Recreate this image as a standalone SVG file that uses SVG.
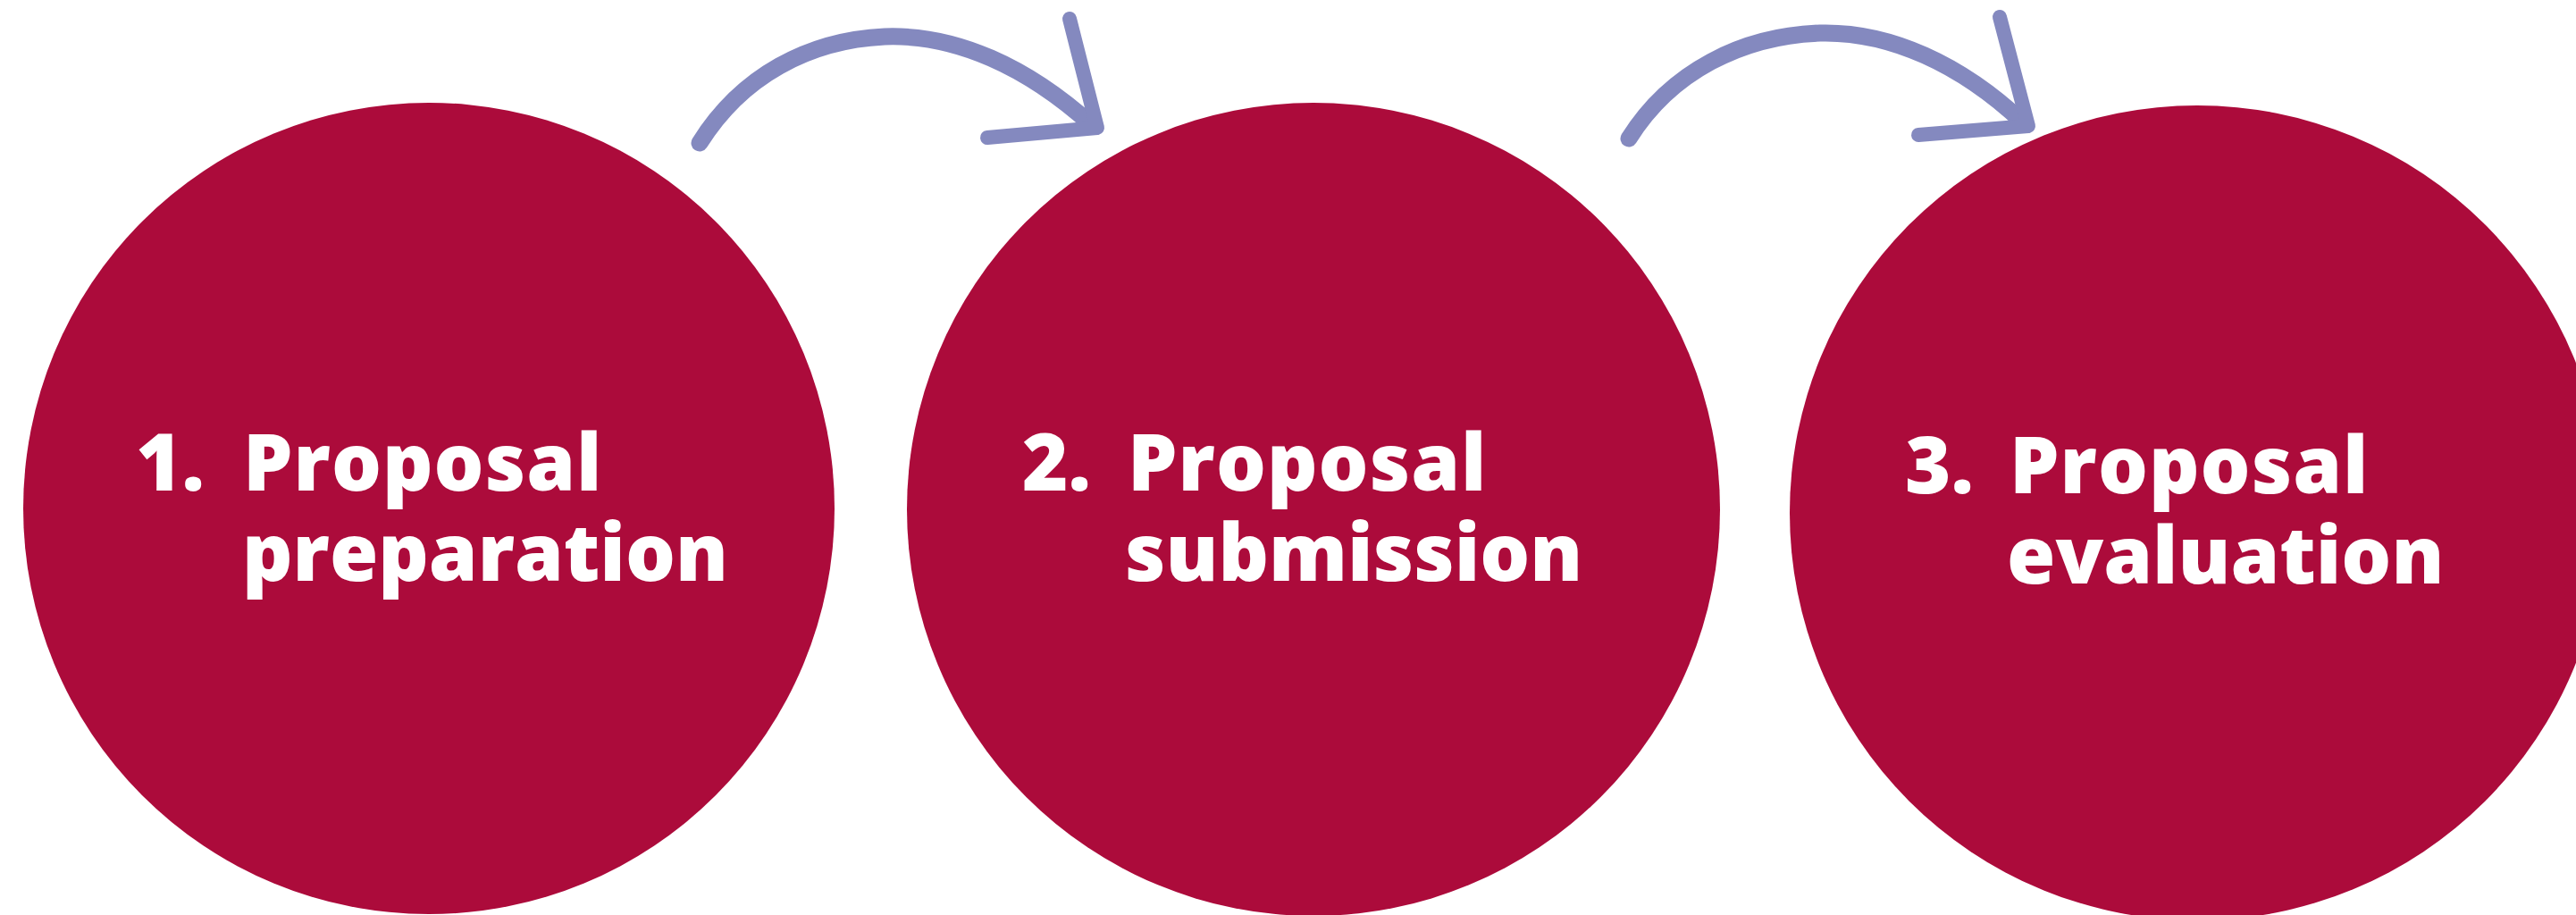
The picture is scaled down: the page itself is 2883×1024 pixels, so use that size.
<svg xmlns="http://www.w3.org/2000/svg" width="2883" height="1024" viewBox="0 0 2883 1024">
<style>
.node{fill:#AC0B3B}
.lbl{fill:#ffffff;font-family:"Open Sans","Liberation Sans",sans-serif;font-weight:760;font-size:88px}
.wide{letter-spacing:1px}
.arrow{fill:none;stroke:#8489BF;stroke-linecap:round;stroke-linejoin:round}
</style>
<rect width="2883" height="1024" fill="#ffffff"/>
<g id="node1">
<circle class="node" cx="480" cy="569" r="454"/>
<text class="lbl" x="152" y="549">1.</text>
<text class="lbl wide" x="272" y="549">Proposal</text>
<text class="lbl" x="271" y="650">preparation</text>
</g>
<g id="node2">
<circle class="node" cx="1470" cy="570" r="455"/>
<text class="lbl" x="1144" y="549">2.</text>
<text class="lbl wide" x="1262" y="549">Proposal</text>
<text class="lbl" x="1259" y="650">submission</text>
</g>
<g id="node3">
<circle class="node" cx="2459" cy="574" r="456"/>
<text class="lbl" x="2132" y="552">3.</text>
<text class="lbl wide" x="2249" y="552">Proposal</text>
<text class="lbl" x="2246" y="653">evaluation</text>
</g>
<g id="connectors">
<path class="arrow" stroke-width="19" d="M783,160 C830,85 905,45 990,41 C1070,38 1150,75 1222,140"/>
<path class="arrow" stroke-width="16" d="M1197,21 L1228,143 L1105,154"/>
<path class="arrow" stroke-width="19" d="M1823,155 C1870,80 1950,40 2037,37 C2115,35 2195,72 2264,137"/>
<path class="arrow" stroke-width="16" d="M2238,19 L2270,141 L2147,151"/>
</g>
</svg>
